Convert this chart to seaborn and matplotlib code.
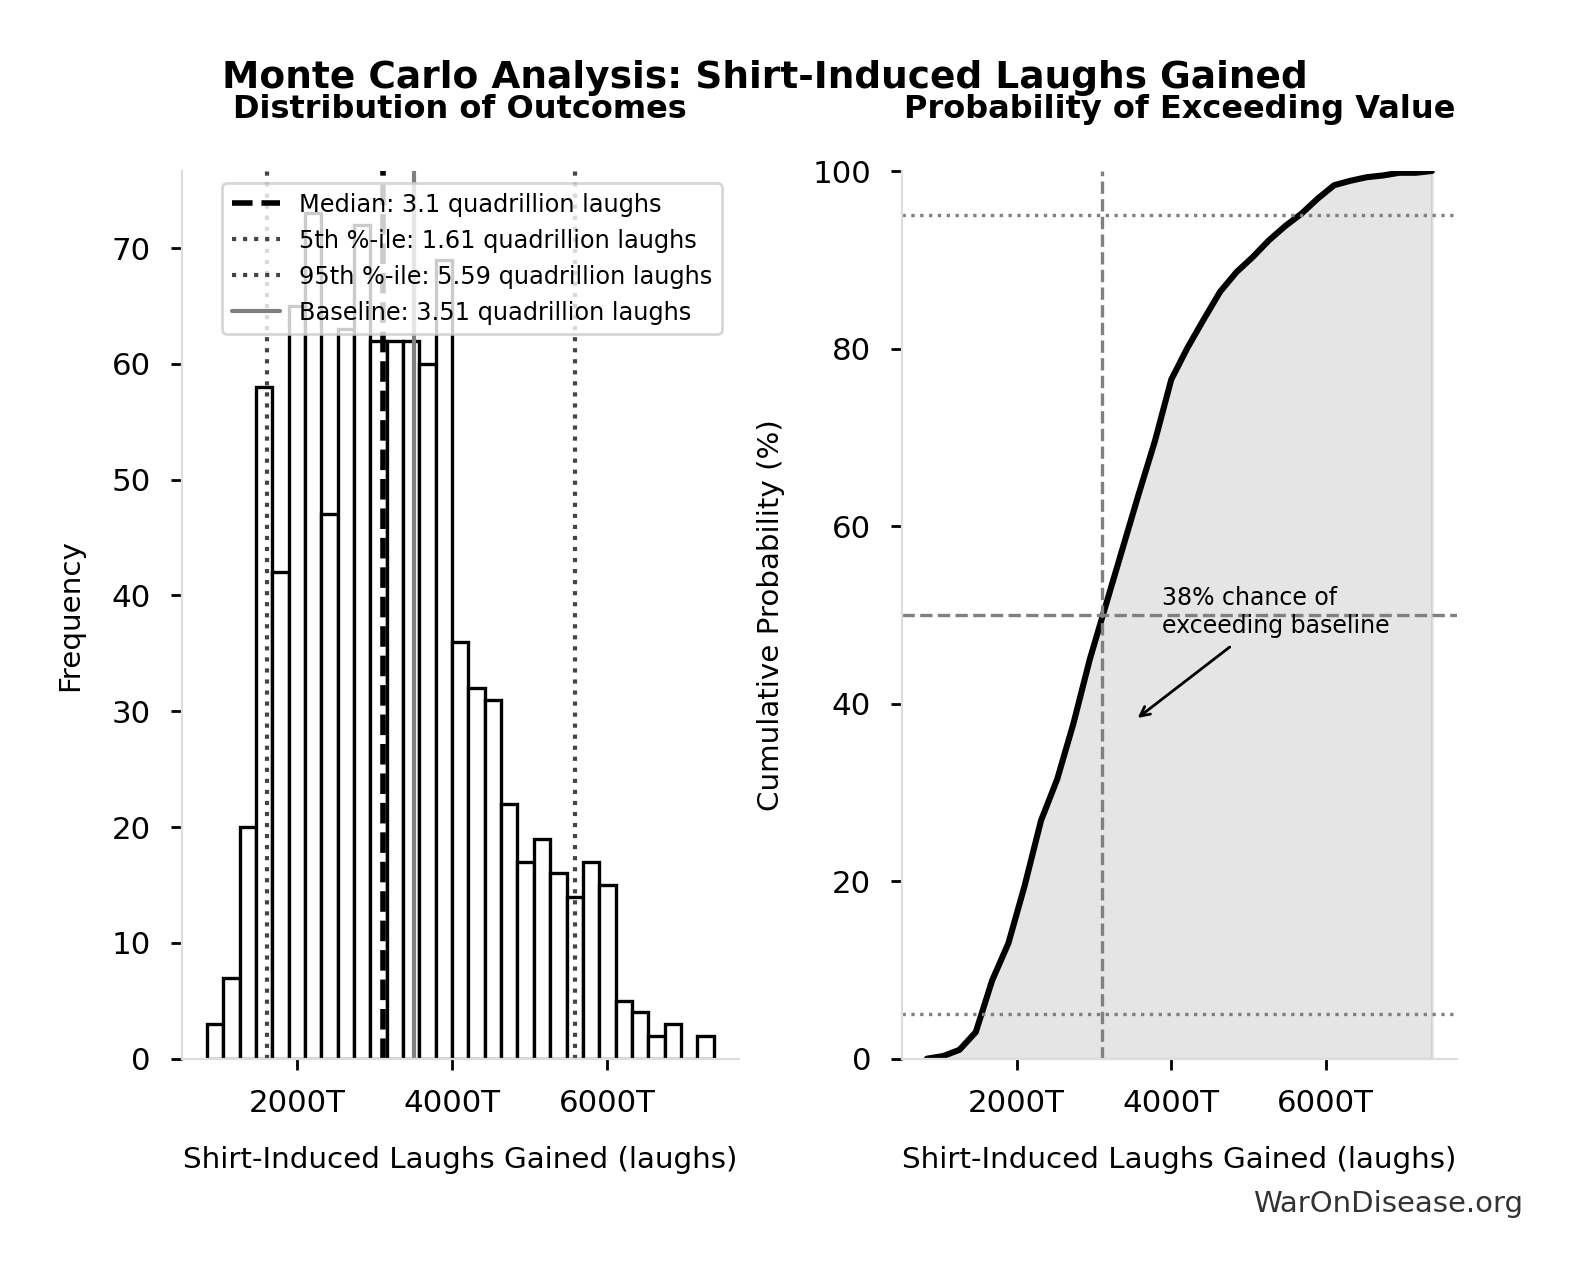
import numpy as np
import pandas as pd
import seaborn as sns
import matplotlib.pyplot as plt
from matplotlib.ticker import FuncFormatter

# Monte Carlo histogram (1000 draws, 31 equal bins)
# x values are in trillions of laughs
x_min_T = 840.0
x_max_T = 7375.0
bin_counts = [3, 7, 20, 58, 42, 65, 73, 47, 63, 72, 62, 62, 62, 60, 69,
              36, 32, 31, 22, 17, 19, 16, 14, 17, 15, 5, 4, 2, 3, 0, 2]

median_T = 3110.0
p5_T = 1610.0
p95_T = 5590.0
baseline_T = 3510.0

line_labels = ["Median: 3.1 quadrillion laughs",
               "5th %-ile: 1.61 quadrillion laughs",
               "95th %-ile: 5.59 quadrillion laughs",
               "Baseline: 3.51 quadrillion laughs"]

prob_levels = [5, 50, 95]
chance_pct = 38

# derived tables
n_bins = len(bin_counts)
edges = np.linspace(x_min_T, x_max_T, n_bins + 1)
centers = (edges[:-1] + edges[1:]) / 2
hist_df = pd.DataFrame({"value": centers, "count": bin_counts})
cum_pct = np.concatenate([[0], np.cumsum(bin_counts)]) / np.sum(bin_counts) * 100
cdf_df = pd.DataFrame({"value": edges, "cum": cum_pct})

sns.set_style("ticks")
plt.rcParams["font.family"] = ["DejaVu Sans"]
plt.rcParams["text.color"] = "black"
plt.rcParams["axes.labelcolor"] = "black"
plt.rcParams["xtick.color"] = "black"
plt.rcParams["ytick.color"] = "black"

fig = plt.figure(figsize=(7.9, 6.4), dpi=200)
ax1 = fig.add_axes([0.1149, 0.1729, 0.3528, 0.6935])
ax2 = fig.add_axes([0.5707, 0.1729, 0.3515, 0.6935])

fmt = FuncFormatter(lambda v, p: f"{v:.0f}T")

# ---- left: histogram
sns.histplot(data=hist_df, x="value", weights="count", bins=n_bins,
             binrange=(x_min_T, x_max_T), ax=ax1,
             color="white", edgecolor="black", linewidth=1.2, alpha=1)
ax1.axvline(median_T, color="black", ls="--", lw=2, label=line_labels[0])
ax1.axvline(p5_T, color="#444444", ls=":", lw=1.5, label=line_labels[1])
ax1.axvline(p95_T, color="#444444", ls=":", lw=1.5, label=line_labels[2])
ax1.axvline(baseline_T, color="gray", ls="-", lw=1.5, label=line_labels[3])
ax1.legend(loc="upper right", bbox_to_anchor=(0.991, 1.0), fontsize=8.65)
ax1.set_title("Distribution of Outcomes", fontsize=11.5, fontweight="bold", pad=19)
ax1.set_xlabel("Shirt-Induced Laughs Gained (laughs)", fontsize=10.6, labelpad=10)
ax1.set_ylabel("Frequency", fontsize=10.6, labelpad=10)

# ---- right: cumulative curve
ax2.fill_between(cdf_df["value"], cdf_df["cum"], color="gray", alpha=0.2)
sns.lineplot(data=cdf_df, x="value", y="cum", ax=ax2, color="black", lw=2.2)
ax2.axvline(median_T, color="gray", ls="--", lw=1.2)
ax2.axhline(prob_levels[1], color="gray", ls="--", lw=1.2)
ax2.axhline(prob_levels[0], color="gray", ls=":", lw=1.2)
ax2.axhline(prob_levels[2], color="gray", ls=":", lw=1.2)
ax2.set_ylim(0, 100)
ax2.annotate(f"{chance_pct}% chance of\nexceeding baseline",
             xy=(baseline_T, chance_pct), xytext=(3880, 48), fontsize=8.5,
             arrowprops=dict(arrowstyle="->", color="black", lw=1))
ax2.set_title("Probability of Exceeding Value", fontsize=11.5, fontweight="bold", pad=19)
ax2.set_xlabel("Shirt-Induced Laughs Gained (laughs)", fontsize=10.6, labelpad=10)
ax2.set_ylabel("Cumulative Probability (%)", fontsize=10.6, labelpad=10)

for ax in (ax1, ax2):
    ax.xaxis.set_major_formatter(fmt)
    sns.despine(ax=ax)
    for s in ("left", "bottom"):
        ax.spines[s].set_color("#dddddd")
        ax.spines[s].set_linewidth(0.8)
    ax.tick_params(labelsize=11.1, length=4, width=1, color="black", pad=7)

fig.suptitle("Monte Carlo Analysis: Shirt-Induced Laughs Gained",
             x=0.484, y=0.931, va="baseline", fontsize=13.5, fontweight="bold")
fig.text(0.964, 0.0534, "WarOnDisease.org", ha="right", va="baseline",
         fontsize=10.5, color="#333333")

fig.savefig("out.png", dpi=200)
